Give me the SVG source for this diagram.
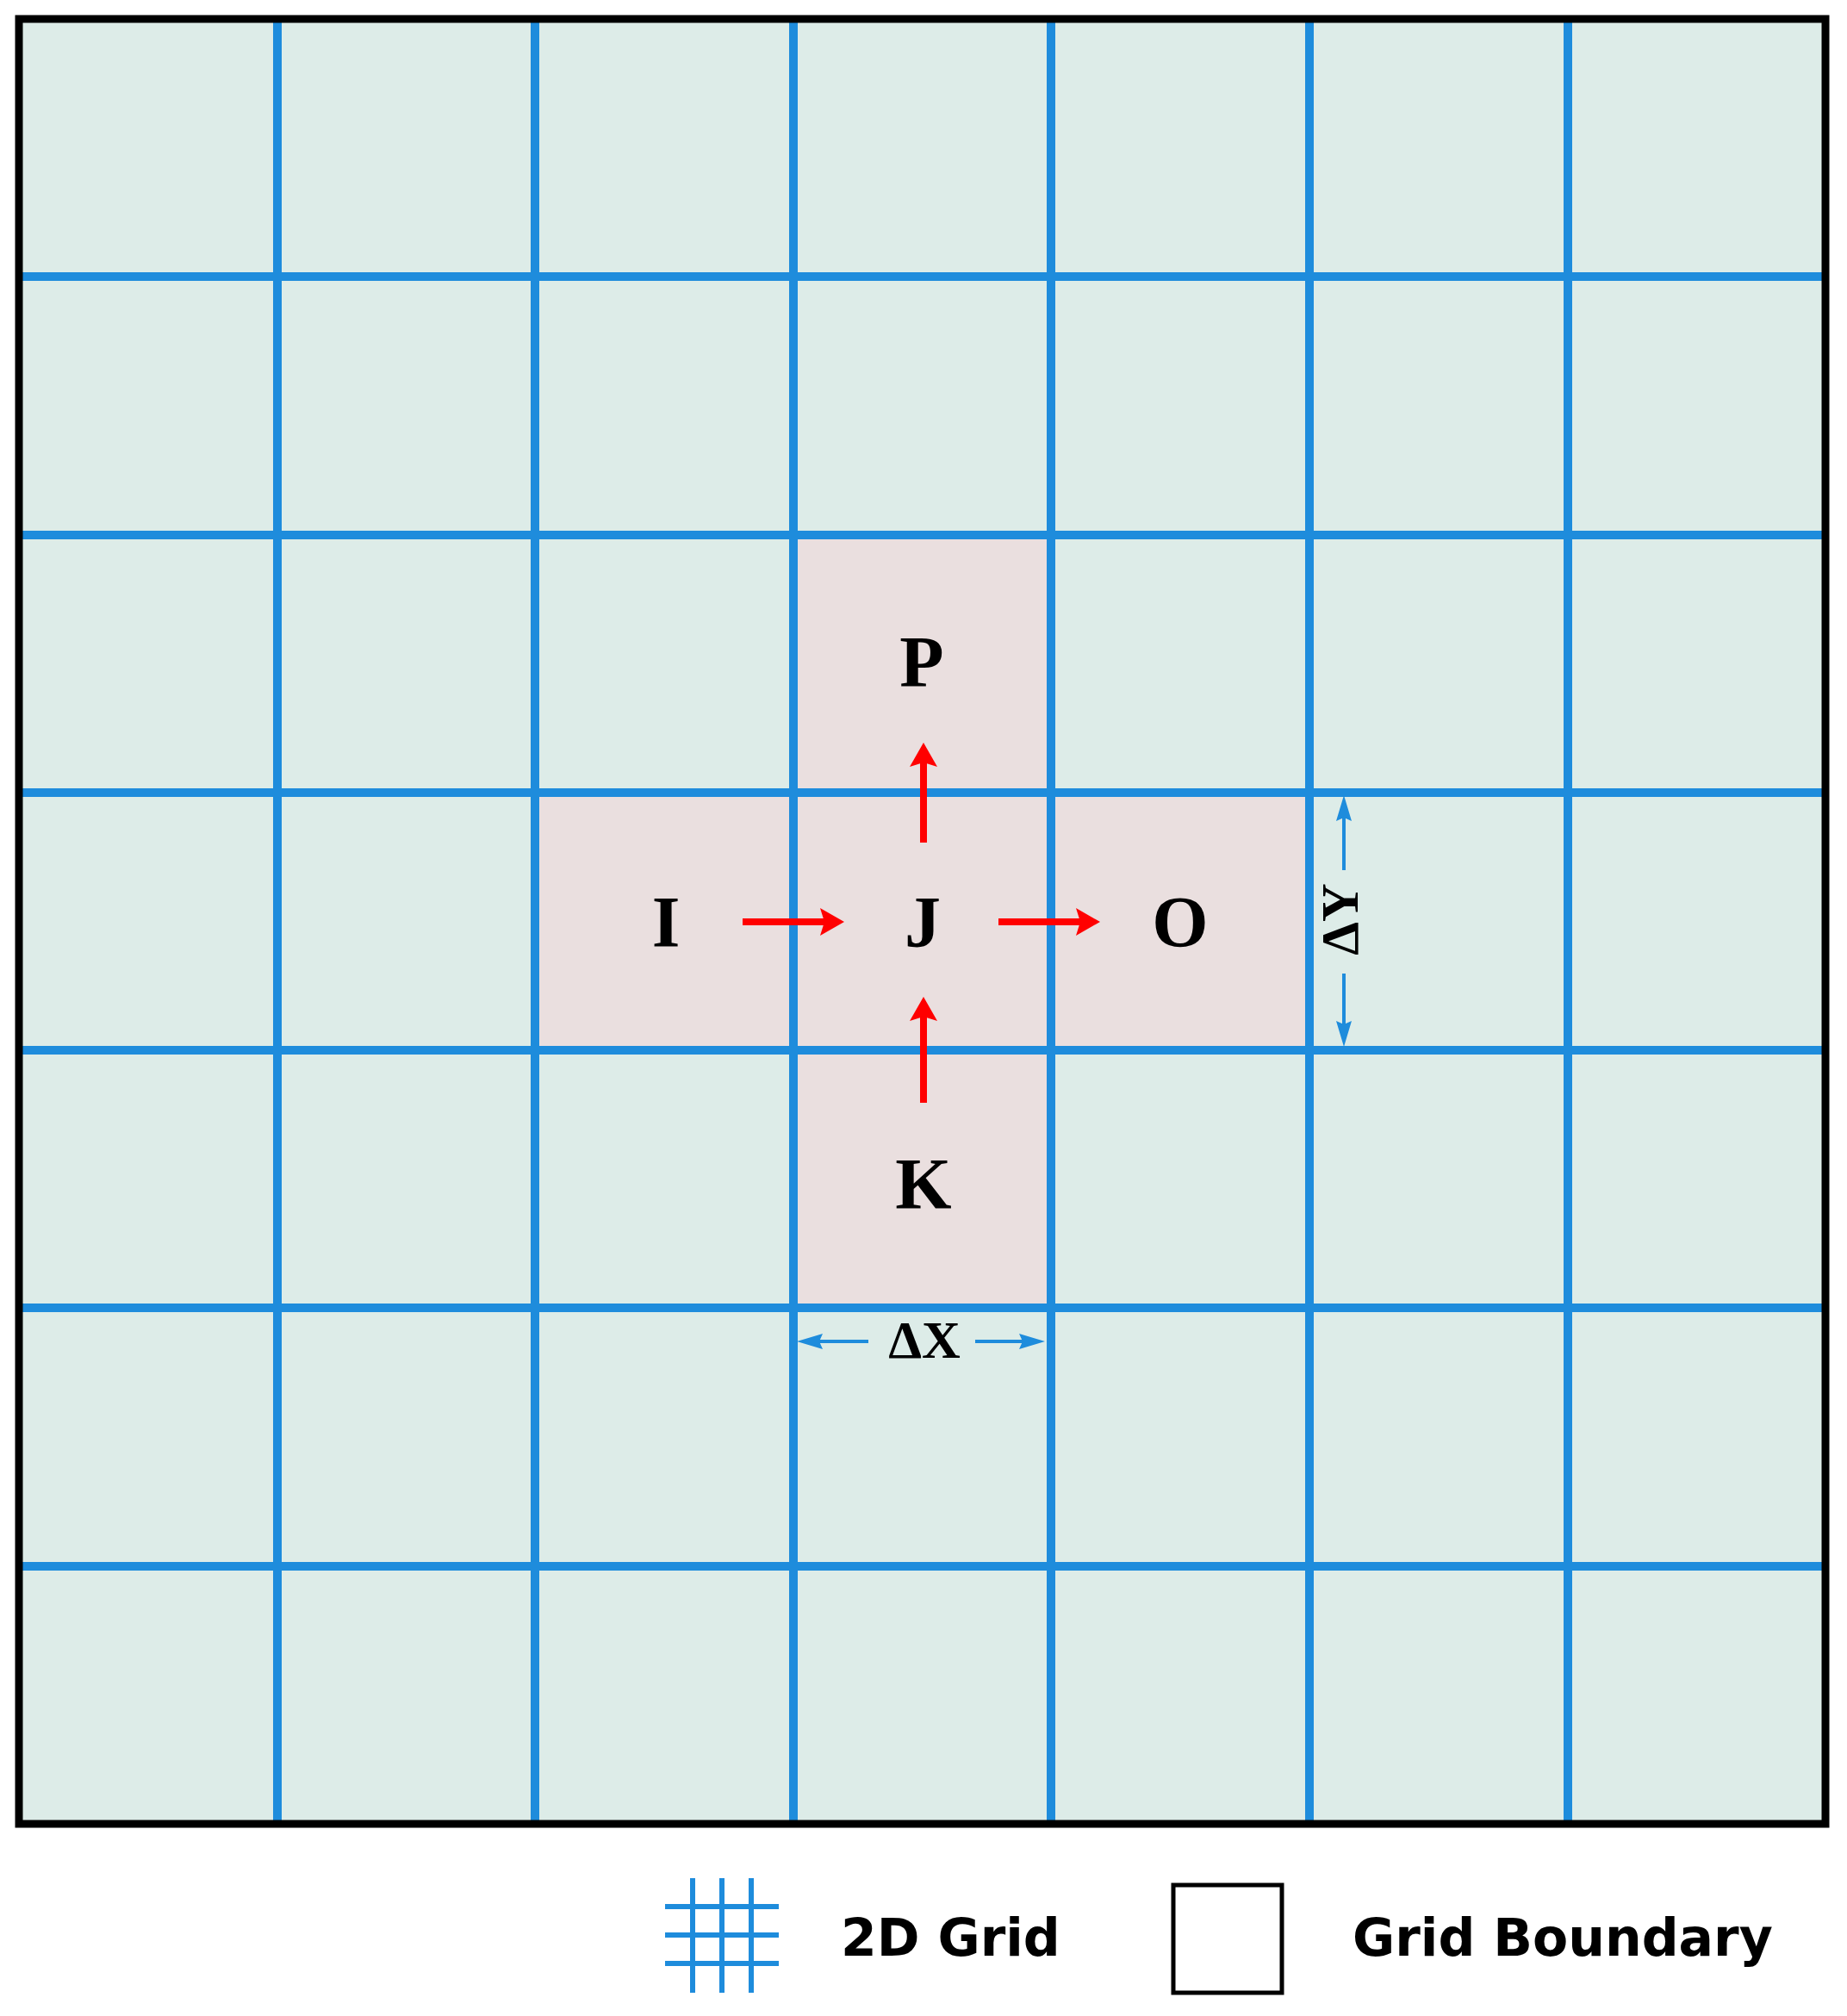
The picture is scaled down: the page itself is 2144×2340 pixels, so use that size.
<svg xmlns="http://www.w3.org/2000/svg" width="2144" height="2340" viewBox="0 0 2144 2340">
<style>
.gl{stroke:#1E8CDC;stroke-width:10;fill:none}
.lg{stroke:#1E8CDC;stroke-width:6;fill:none}
.cell{fill:#EADFDF}
.lbl{font-family:"Liberation Serif","Times New Roman",serif;font-weight:bold;font-size:84px;fill:#000;text-anchor:middle}
.dim{font-family:"Liberation Serif","Times New Roman",serif;font-weight:bold;font-size:62px;fill:#000;text-anchor:middle}
.leg{font-family:"DejaVu Sans",Verdana,sans-serif;font-weight:bold;font-size:60px;fill:#000}
.ra{stroke:#FF0000;stroke-width:8;fill:none;marker-end:url(#rh)}
.ba{stroke:#1E8CDC;stroke-width:4;fill:none;marker-end:url(#bh)}
</style>
<defs>
<marker id="rh" markerUnits="userSpaceOnUse" viewBox="0 0 28 32" refX="5" refY="16" markerWidth="28" markerHeight="32" orient="auto">
<path d="M0,0 L28,16 L0,32 L5,16 z" fill="#FF0000"/>
</marker>
<marker id="bh" markerUnits="userSpaceOnUse" viewBox="0 0 30 18" refX="4" refY="9" markerWidth="30" markerHeight="18" orient="auto">
<path d="M0,0 L30,9 L0,18 L4,9 z" fill="#1E8CDC"/>
</marker>
</defs>
<rect width="2144" height="2340" fill="#FFFFFF"/>
<g id="grid-area">
<rect x="22" y="22" width="2097" height="2095" fill="#DDECE8"/>
</g>
<g id="cells">
<rect id="cell-P" class="cell" x="921" y="621" width="299" height="299"/>
<rect id="cell-I" class="cell" x="621" y="920" width="300" height="299"/>
<rect id="cell-J" class="cell" x="921" y="920" width="299" height="299"/>
<rect id="cell-O" class="cell" x="1220" y="920" width="300" height="299"/>
<rect id="cell-K" class="cell" x="921" y="1219" width="299" height="299"/>
</g>
<g id="grid-lines">
<path class="gl" d="M322,22V2117 M621,22V2117 M921,22V2117 M1220,22V2117 M1520,22V2117 M1820,22V2117"/>
<path class="gl" d="M22,321H2119 M22,621H2119 M22,920H2119 M22,1219H2119 M22,1518H2119 M22,1818H2119"/>
</g>
<g id="grid-boundary">
<rect x="22" y="22" width="2097" height="2095" fill="none" stroke="#000" stroke-width="9"/>
</g>
<g id="node-I"><text class="lbl" x="773" y="1099">I</text></g>
<g id="node-J"><text class="lbl" x="1071" y="1099">J</text></g>
<g id="node-O"><text class="lbl" x="1370" y="1099">O</text></g>
<g id="node-P"><text class="lbl" x="1070" y="797">P</text></g>
<g id="node-K"><text class="lbl" x="1072" y="1403">K</text></g>
<g id="connectors">
<line class="ra" x1="862" y1="1070" x2="957" y2="1070"/>
<line class="ra" x1="1159" y1="1070" x2="1254" y2="1070"/>
<line class="ra" x1="1072" y1="978" x2="1072" y2="885"/>
<line class="ra" x1="1072" y1="1280" x2="1072" y2="1180"/>
</g>
<g id="dim-dx">
<line class="ba" x1="1008" y1="1557" x2="951" y2="1557"/>
<line class="ba" x1="1132" y1="1557" x2="1187" y2="1557"/>
<text class="dim" x="1073" y="1576">ΔX</text>
</g>
<g id="dim-dy">
<line class="ba" x1="1560" y1="1010" x2="1560" y2="949"/>
<line class="ba" x1="1560" y1="1130" x2="1560" y2="1189"/>
<text class="dim" transform="translate(1576,1067) rotate(-90)" x="0" y="0">ΔY</text>
</g>
<g id="legend-grid">
<path class="lg" d="M804,2180V2313 M838,2180V2313 M872,2180V2313 M772,2213H904 M772,2246H904 M772,2279H904"/>
<text class="leg" x="976" y="2270">2D Grid</text>
</g>
<g id="legend-boundary">
<rect x="1362" y="2188" width="126" height="125" fill="none" stroke="#000" stroke-width="5"/>
<text class="leg" x="1570" y="2270">Grid Boundary</text>
</g>
</svg>
